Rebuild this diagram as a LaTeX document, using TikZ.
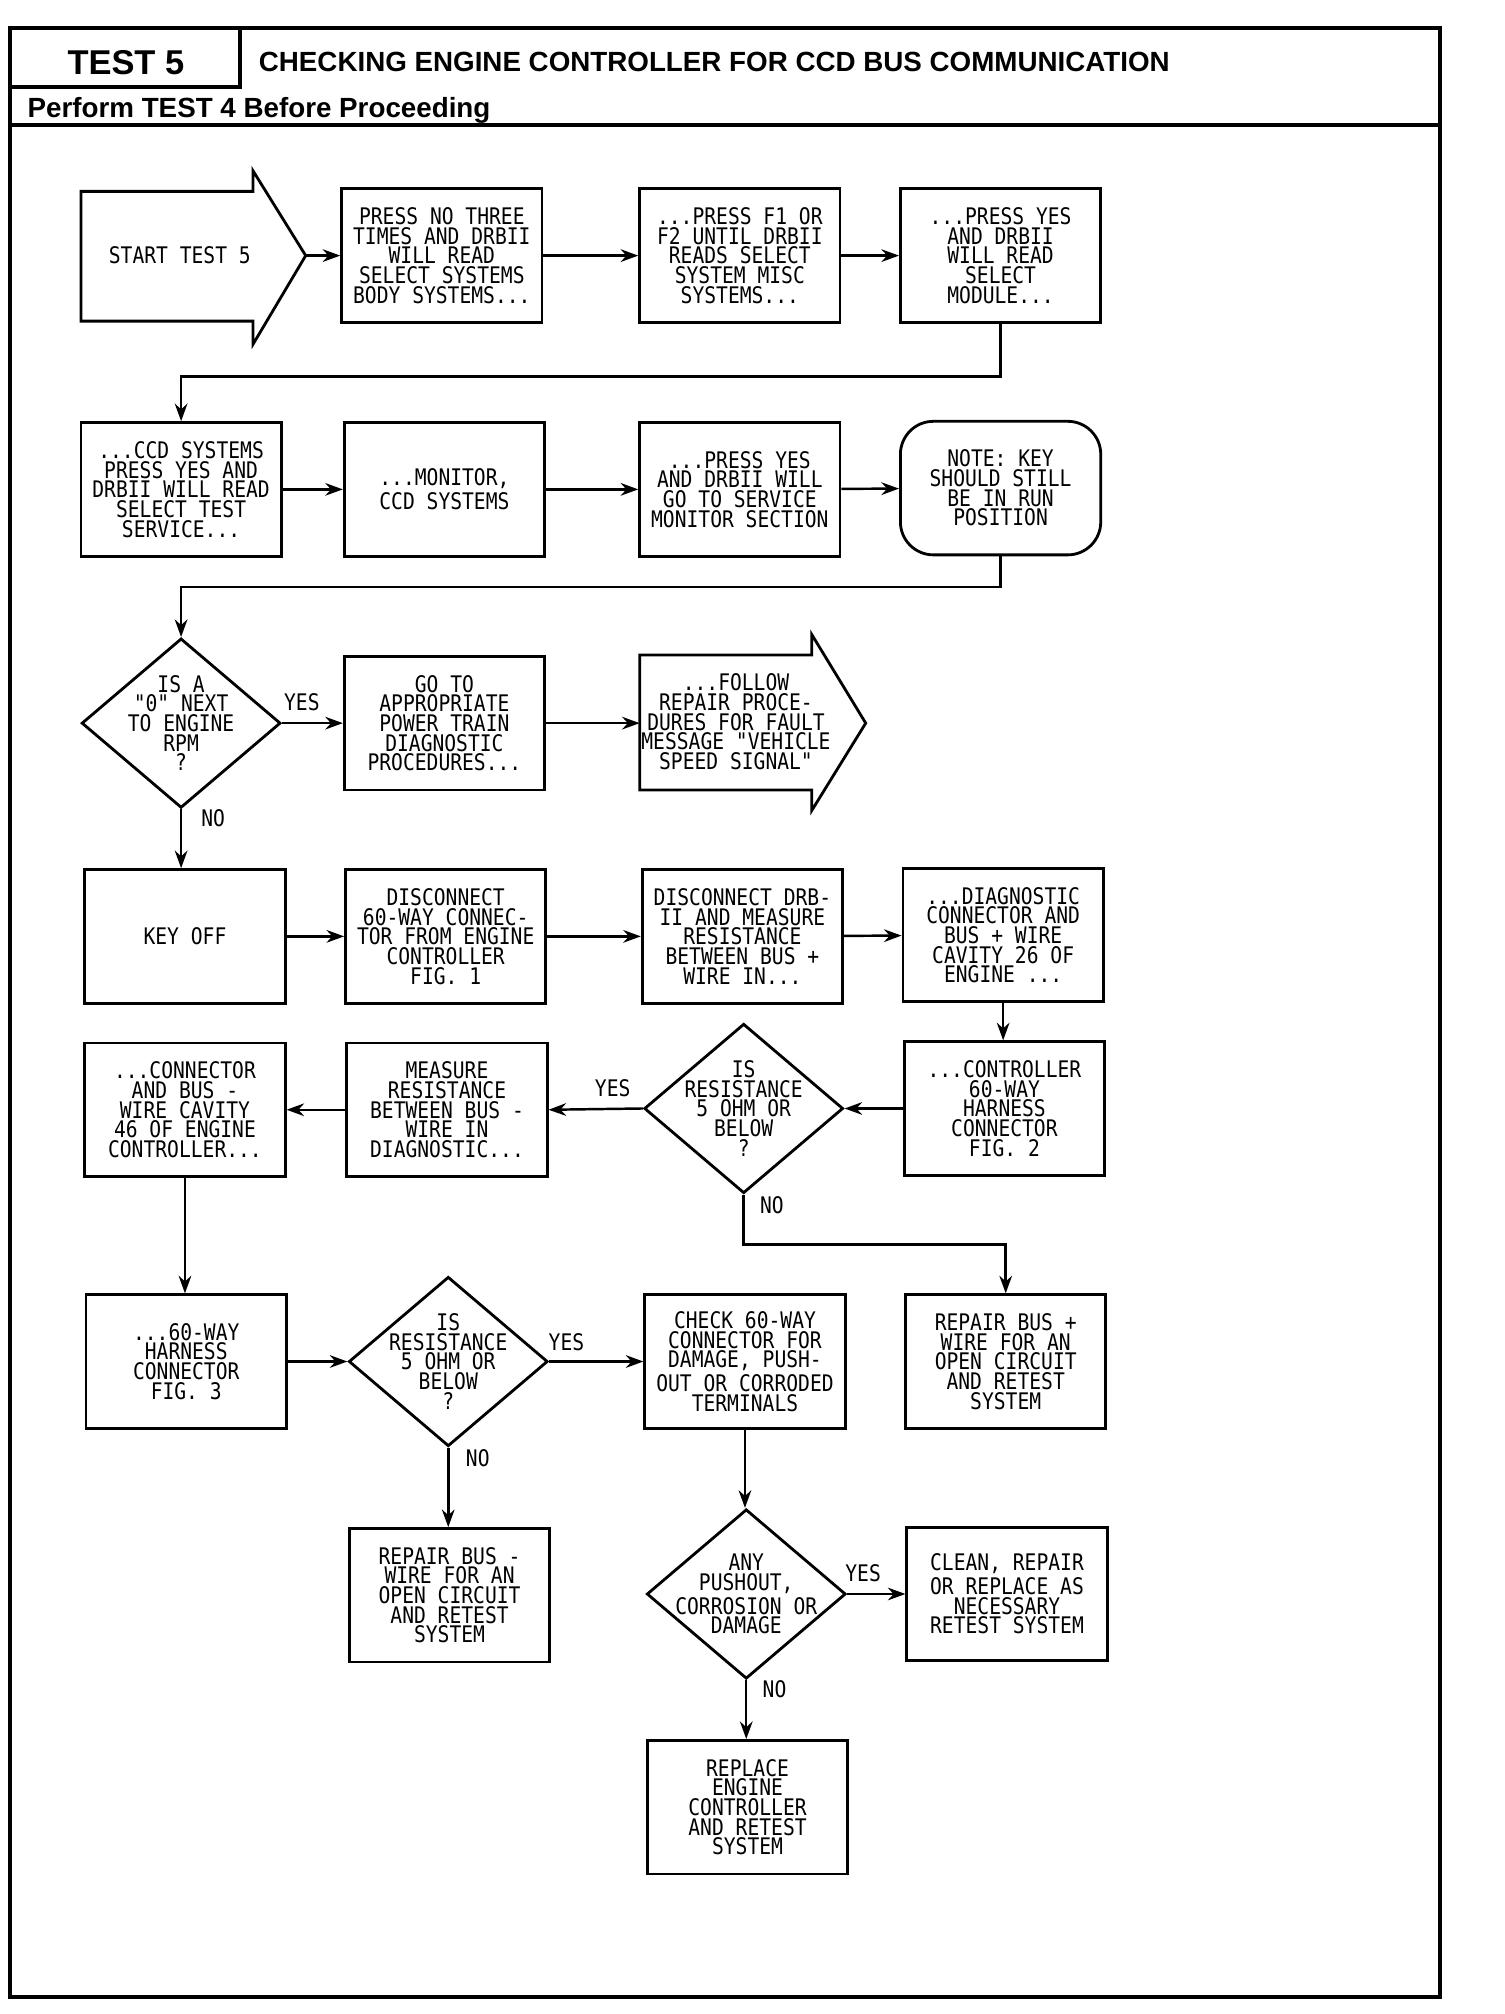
\documentclass[tikz,border=0pt]{standalone}
\usepackage{fontspec}
\setmainfont{Liberation Sans}
\newfontfamily\plotfont[FakeStretch=0.86]{DejaVu Sans Mono}
\usetikzlibrary{arrows.meta,shapes.geometric}

\begin{document}
\begin{tikzpicture}[
    x=0.012844cm, y=-0.012844cm,
    every node/.style={font=\plotfont\fontsize{6.5}{5.6}\selectfont, inner sep=0pt},
    box/.style={draw, line width=0.8pt, align=center, minimum width=2.004cm, minimum height=1.336cm},
    note/.style={box, rounded corners=0.33cm},
    decision/.style={draw, diamond, line width=0.8pt, minimum width=1.99cm, minimum height=1.695cm},
    lbl/.style={align=center},
    arr/.style={-{Stealth[length=5pt,width=3.6pt]}, line width=0.7pt},
    frame/.style={line width=1.1pt}
]
\useasboundingbox (0,0) rectangle (1171,1568);

\draw[frame] (8,22) rectangle (1121,1555);
\draw[frame] (187,22) -- (187,68) -- (8,68);
\draw[frame] (8,97) -- (1121,97);
\node[font=\fontsize{9.8}{12}\selectfont\bfseries] (testno) at (98,49) {TEST 5};
\node[anchor=west, font=\fontsize{7.9}{9}\selectfont\bfseries] (title) at (201,48) {CHECKING ENGINE CONTROLLER FOR CCD BUS COMMUNICATION};
\node[anchor=west, font=\fontsize{7.9}{9}\selectfont\bfseries] (perform) at (21,86) {Perform TEST 4 Before Proceeding};

\draw[line width=0.8pt] (63,149) -- (197,149) -- (197,133) -- (238,199) -- (197,268) -- (197,250) -- (63,250) -- cycle;
\node (start) at (140,199) {START TEST 5};
\coordinate (starttip) at (238,199);
\node[box] (a1) at (344,199) {PRESS NO THREE\\TIMES AND DRBII\\WILL READ\\SELECT SYSTEMS\\BODY SYSTEMS...};
\node[box] (a2) at (576,199) {...PRESS F1 OR\\F2 UNTIL DRBII\\READS SELECT\\SYSTEM MISC\\SYSTEMS...};
\node[box] (a3) at (779,199) {...PRESS YES\\AND DRBII\\WILL READ\\SELECT\\MODULE...};

\node[box] (b1) at (141,381) {...CCD SYSTEMS\\PRESS YES AND\\DRBII WILL READ\\SELECT TEST\\SERVICE...};
\node[box] (b2) at (346,381) {...MONITOR,\\CCD SYSTEMS};
\node[box] (b3) at (576,381) {...PRESS YES\\AND DRBII WILL\\GO TO SERVICE\\MONITOR SECTION};
\node[note] (b4) at (779,380) {NOTE: KEY\\SHOULD STILL\\BE IN RUN\\POSITION};

\node[decision, label={[lbl]center:{IS A\\"0" NEXT\\TO ENGINE\\RPM\\?}}] (c1) at (141,563) {};
\node[box] (c2) at (346,563) {GO TO\\APPROPRIATE\\POWER TRAIN\\DIAGNOSTIC\\PROCEDURES...};
\draw[line width=0.8pt] (498,510) -- (632,510) -- (632,494) -- (674,563) -- (632,631) -- (632,615) -- (498,615) -- cycle;
\node[lbl] (follow) at (573,562) {...FOLLOW\\REPAIR PROCE-\\DURES FOR FAULT\\MESSAGE "VEHICLE\\SPEED SIGNAL"};
\coordinate (followin) at (498,563);

\node[box] (d1) at (144,729) {KEY OFF};
\node[box] (d2) at (347,729) {DISCONNECT\\60-WAY CONNEC-\\TOR FROM ENGINE\\CONTROLLER\\FIG. 1};
\node[box] (d3) at (578,729) {DISCONNECT DRB-\\II AND MEASURE\\RESISTANCE\\BETWEEN BUS +\\WIRE IN...};
\node[box] (d4) at (781,728) {...DIAGNOSTIC\\CONNECTOR AND\\BUS + WIRE\\CAVITY 26 OF\\ENGINE ...};

\node[box] (e1) at (144,864) {...CONNECTOR\\AND BUS -\\WIRE CAVITY\\46 OF ENGINE\\CONTROLLER...};
\node[box] (e2) at (348,864) {MEASURE\\RESISTANCE\\BETWEEN BUS -\\WIRE IN\\DIAGNOSTIC...};
\node[decision, label={[lbl]center:{IS\\RESISTANCE\\5 OHM OR\\BELOW\\?}}] (e3) at (579,863) {};
\node[box] (e4) at (782,863) {...CONTROLLER\\60-WAY\\HARNESS\\CONNECTOR\\FIG. 2};

\node[box] (f1) at (145,1060) {...60-WAY\\HARNESS\\CONNECTOR\\FIG. 3};
\node[decision, label={[lbl]center:{IS\\RESISTANCE\\5 OHM OR\\BELOW\\?}}] (f2) at (349,1060) {};
\node[box] (f3) at (580,1060) {CHECK 60-WAY\\CONNECTOR FOR\\DAMAGE, PUSH-\\OUT OR CORRODED\\TERMINALS};
\node[box] (f4) at (783,1060) {REPAIR BUS +\\WIRE FOR AN\\OPEN CIRCUIT\\AND RETEST\\SYSTEM};

\node[box] (g1) at (350,1242) {REPAIR BUS -\\WIRE FOR AN\\OPEN CIRCUIT\\AND RETEST\\SYSTEM};
\node[decision, label={[lbl]center:{ANY\\PUSHOUT,\\CORROSION OR\\DAMAGE}}] (g2) at (581,1241) {};
\node[box] (g3) at (784,1241) {CLEAN, REPAIR\\OR REPLACE AS\\NECESSARY\\RETEST SYSTEM};

\node[box] (h1) at (582,1407) {REPLACE\\ENGINE\\CONTROLLER\\AND RETEST\\SYSTEM};

\node (yes1) at (235,547) {YES};
\node (no1) at (166,637) {NO};
\node (yes2) at (477,847) {YES};
\node (no2) at (601,938) {NO};
\node (yes3) at (441,1045) {YES};
\node (no3) at (372,1135) {NO};
\node (yes4) at (672,1225) {YES};
\node (no4) at (603,1315) {NO};

\draw[arr] (starttip) -- (a1.west);
\draw[arr] (a1) -- (a2);
\draw[arr] (a2) -- (a3);
\draw[arr] (a3.south) -- ++(0,41) -| (b1.north);
\draw[arr] (b1) -- (b2);
\draw[arr] (b2) -- (b3);
\draw[arr] (b3) -- (b4);
\draw[arr] (b4.south) -- ++(0,24) -| (c1.north);
\draw[arr] (c1.east) -- (c2.west);
\draw[arr] (c2.east) -- (followin);
\draw[arr] (c1.south) -- (c1.south |- d1.north);
\draw[arr] (d1) -- (d2);
\draw[arr] (d2) -- (d3);
\draw[arr] (d3) -- (d4);
\draw[arr] (d4.south) -- (d4.south |- e4.north);
\draw[arr] (e4.west) -- (e3.east);
\draw[arr] (e3.west) -- (e2.east);
\draw[arr] (e2) -- (e1);
\draw[arr] (e1.south) -- (e1.south |- f1.north);
\draw[arr] (e3.south) -- ++(0,39) -| (f4.north);
\draw[arr] (f1.east) -- (f2.west);
\draw[arr] (f2.east) -- (f3.west);
\draw[arr] (f2.south) -- (f2.south |- g1.north);
\draw[arr] (f3.south) -- (f3.south |- g2.north);
\draw[arr] (g2.east) -- (g3.west);
\draw[arr] (g2.south) -- (g2.south |- h1.north);
\end{tikzpicture}
\end{document}
